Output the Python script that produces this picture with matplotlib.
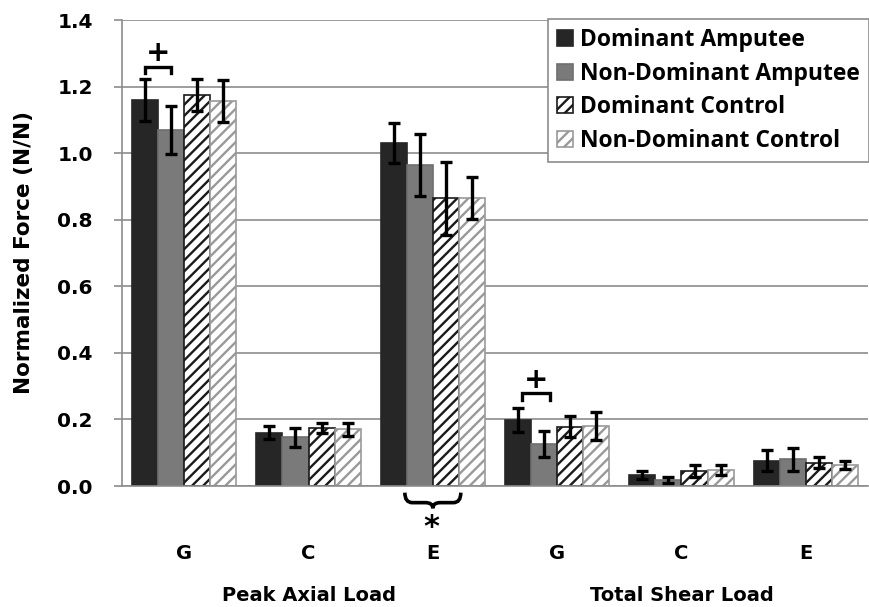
import matplotlib
matplotlib.use("Agg")
import matplotlib.pyplot as plt
import numpy as np
from matplotlib.path import Path
from matplotlib.patches import PathPatch

# ---- data ----
categories = ['G', 'C', 'E', 'G', 'C', 'E']
group_names = ['Peak Axial Load', 'Total Shear Load']
group_centers = [1, 4]
series_names = ['Dominant Amputee', 'Non-Dominant Amputee', 'Dominant Control', 'Non-Dominant Control']
dom_amp = [1.160, 0.160, 1.030, 0.198, 0.033, 0.076]
dom_amp_err = [0.062, 0.019, 0.060, 0.035, 0.012, 0.031]
nondom_amp = [1.069, 0.146, 0.964, 0.126, 0.018, 0.080]
nondom_amp_err = [0.072, 0.028, 0.093, 0.038, 0.010, 0.034]
dom_ctrl = [1.175, 0.173, 0.864, 0.178, 0.045, 0.070]
dom_ctrl_err = [0.049, 0.015, 0.110, 0.031, 0.017, 0.017]
nondom_ctrl = [1.157, 0.170, 0.864, 0.180, 0.048, 0.063]
nondom_ctrl_err = [0.064, 0.020, 0.063, 0.041, 0.016, 0.013]
yticks = [0.0, 0.2, 0.4, 0.6, 0.8, 1.0, 1.2, 1.4]

plt.rcParams['hatch.linewidth'] = 1.7

fig = plt.figure(figsize=(8.7, 6.07), dpi=100)
ax = fig.add_axes([122/870, 1-486/607, 746/870, 466/607])

x = np.arange(len(categories))
w = 0.21
offs = np.array([-1.5, -0.5, 0.5, 1.5]) * w
vals = [dom_amp, nondom_amp, dom_ctrl, nondom_ctrl]
errs = [dom_amp_err, nondom_amp_err, dom_ctrl_err, nondom_ctrl_err]
styles = [
    dict(color='#262626', edgecolor='#262626', hatch=None),
    dict(color='#7a7a7a', edgecolor='#6e6e6e', hatch=None),
    dict(color='white', edgecolor='#1a1a1a', hatch='///'),
    dict(color='white', edgecolor='#999999', hatch='///'),
]
for i in range(4):
    st = styles[i]
    ax.bar(x + offs[i], vals[i], w, color=st['color'], edgecolor=st['edgecolor'],
           hatch=st['hatch'], linewidth=1.2, label=series_names[i], zorder=2)
    ax.errorbar(x + offs[i], vals[i], yerr=errs[i], fmt='none', ecolor='black',
                elinewidth=2.4, capsize=4, capthick=2.4, zorder=3)

ax.set_xlim(-0.5, 5.5)
ax.set_ylim(0, 1.4)
ax.set_yticks(yticks)
ax.set_yticklabels([f'{v:.1f}' for v in yticks])
ax.set_xticks(x)
ax.set_xticklabels(categories)
ax.yaxis.grid(True, color='#8c8c8c', linewidth=1.2, zorder=0)
ax.set_axisbelow(True)
for s in ['top', 'right']:
    ax.spines[s].set_visible(False)
for s in ['left', 'bottom']:
    ax.spines[s].set_color('#8c8c8c')
    ax.spines[s].set_linewidth(1.2)
ax.tick_params(axis='y', length=6, width=1.2, color='#8c8c8c', pad=15, labelsize=14.5)
ax.tick_params(axis='x', length=0, pad=42, labelsize=14)
for lab in ax.get_yticklabels() + ax.get_xticklabels():
    lab.set_fontweight('bold')

ax.set_ylabel('Normalized Force (N/N)', fontsize=15.5, fontweight='bold')
ax.yaxis.set_label_coords(-0.118, 0.5)

for name, c in zip(group_names, group_centers):
    ax.text(c, -0.234, name, transform=ax.get_xaxis_transform(), ha='center', va='center',
            fontsize=14, fontweight='bold', clip_on=False)

# significance brackets "+"
def plus_bracket(xa, xb, y, leg, ytxt):
    ax.plot([xa, xa, xb, xb], [y - leg, y, y, y - leg], color='black', lw=2.4,
            solid_joinstyle='miter', zorder=4, clip_on=False)
    ax.text((xa + xb) / 2, ytxt, '+', ha='center', va='center', fontsize=21,
            fontweight='bold', clip_on=False)

plus_bracket(0 + offs[0], 0 + offs[1], 1.259, 0.018, 1.302)
plus_bracket(3 + offs[0] + 0.03, 3 + offs[1] + 0.05, 0.279, 0.021, 0.318)

# curly brace under group E (Peak Axial)
def underbrace(x0, x1, ytop, ymid, ybot, r):
    xc = (x0 + x1) / 2
    verts = [(x0, ytop), (x0, ymid), (x0 + r, ymid), (xc - r, ymid),
             (xc, ymid), (xc, ybot), (xc, ymid), (xc + r, ymid),
             (x1 - r, ymid), (x1, ymid), (x1, ytop)]
    codes = [Path.MOVETO, Path.CURVE3, Path.CURVE3, Path.LINETO,
             Path.CURVE3, Path.CURVE3, Path.CURVE3, Path.CURVE3,
             Path.LINETO, Path.CURVE3, Path.CURVE3]
    p = PathPatch(Path(verts, codes), fill=False, edgecolor='black', lw=2.6,
                  clip_on=False, zorder=4)
    ax.add_patch(p)

underbrace(2 - 0.225, 2 + 0.225, -0.020, -0.050, -0.067, 0.06)
ax.text(2 - 0.01, -0.125, '*', ha='center', va='center', fontsize=22,
        fontweight='bold', clip_on=False)

leg = ax.legend(loc='upper right', bbox_to_anchor=(869/870, 1 - 19/607),
                bbox_transform=fig.transFigure, borderaxespad=0,
                prop={'family': 'Open Sans', 'weight': 'bold', 'size': 16.5},
                handlelength=0.7, handleheight=0.7, handletextpad=0.3,
                labelspacing=0.42, borderpad=0.4, fancybox=False, framealpha=1)
leg.get_frame().set_edgecolor('#8c8c8c')
leg.get_frame().set_linewidth(1.2)

fig.savefig('out.png', dpi=100)
